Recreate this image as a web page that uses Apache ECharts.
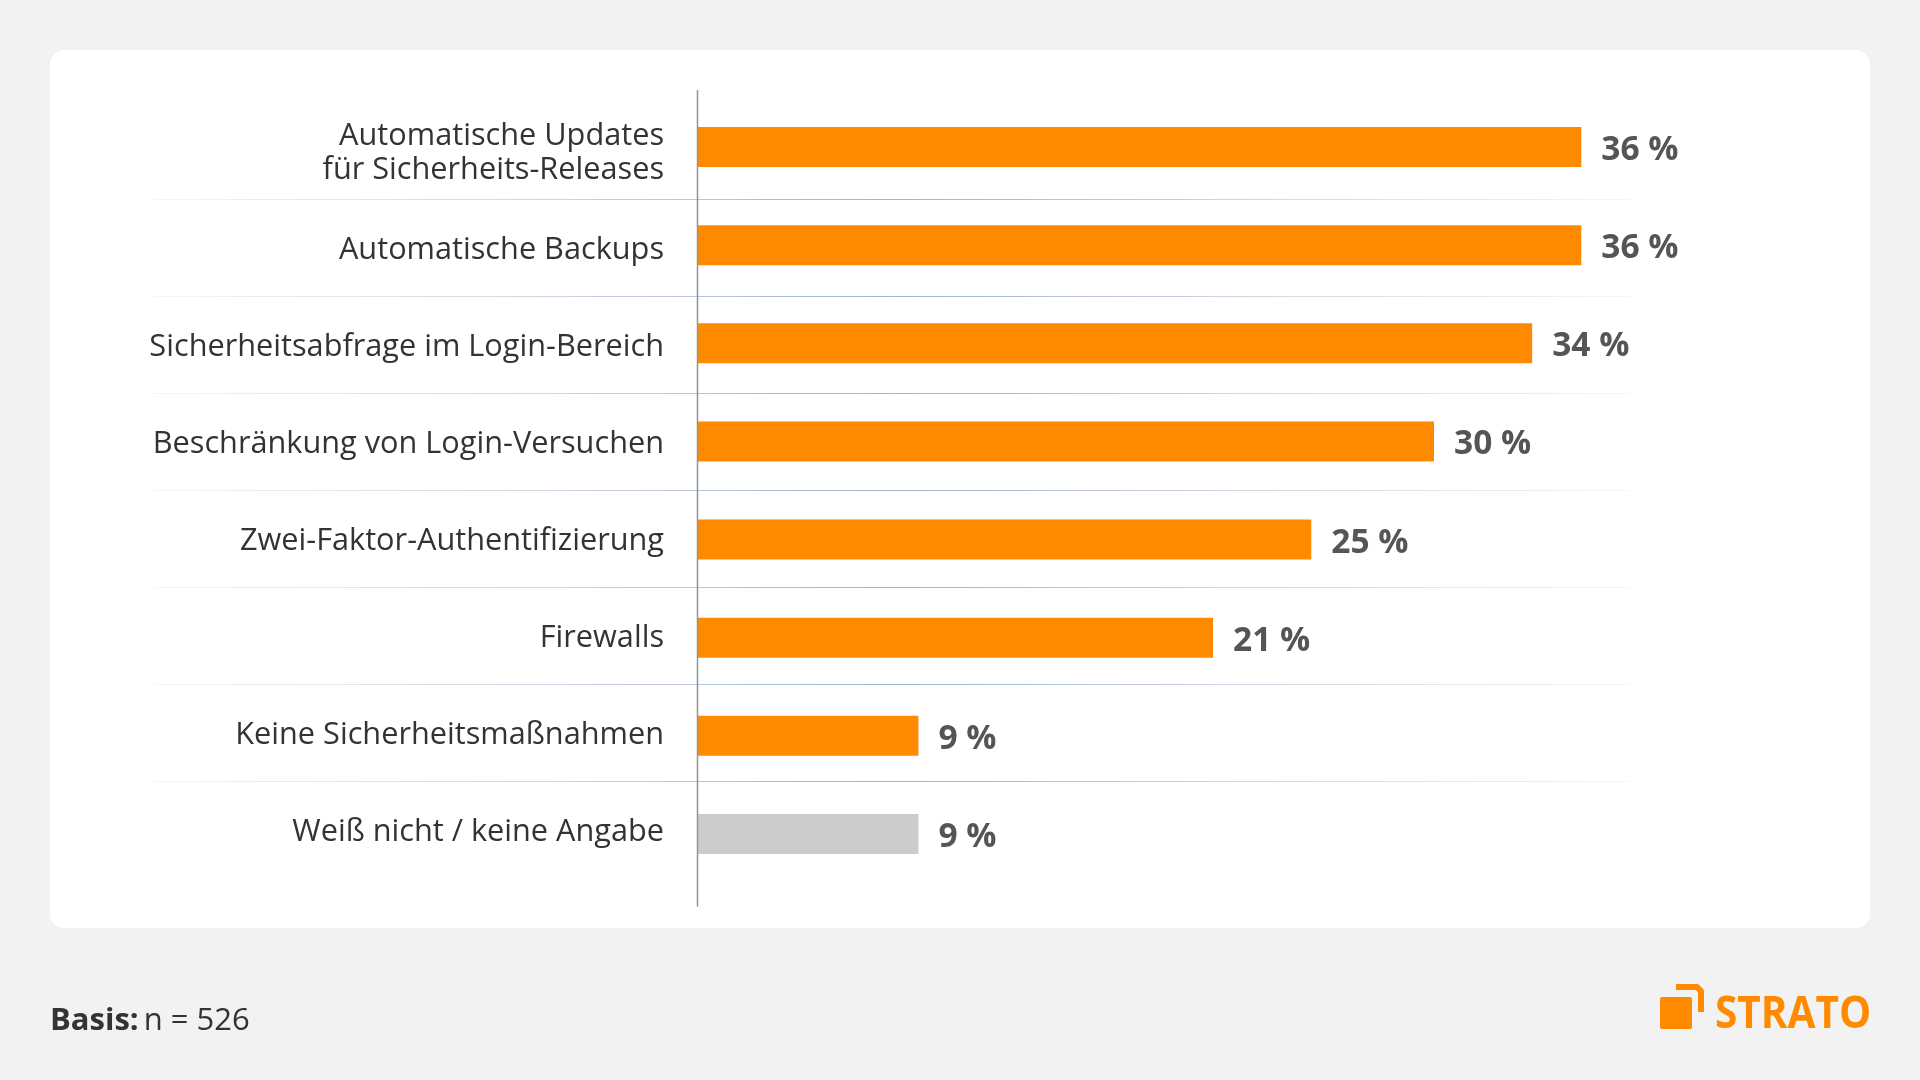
<!DOCTYPE html>
<html>
<head>
<meta charset="utf-8">
<title>STRATO</title>
<script src="https://cdn.jsdelivr.net/npm/echarts@6/dist/echarts.min.js"></script>
<style>
  html, body { margin: 0; padding: 0; background: #f2f2f2; }
  #main { width: 1920px; height: 1080px; }
</style>
</head>
<body>
<div id="main"></div>
<script>
var categories = [
  'Automatische Updates\nfür Sicherheits-Releases',
  'Automatische Backups',
  'Sicherheitsabfrage im Login-Bereich',
  'Beschränkung von Login-Versuchen',
  'Zwei-Faktor-Authentifizierung',
  'Firewalls',
  'Keine Sicherheitsmaßnahmen',
  'Weiß nicht / keine Angabe'
];
var values = [36, 36, 34, 30, 25, 21, 9, 9];
var barColors = ['#ff8a00', '#ff8a00', '#ff8a00', '#ff8a00', '#ff8a00', '#ff8a00', '#ff8a00', '#cccccc'];

var font = '"Open Sans", sans-serif';
var myChart = echarts.init(document.getElementById('main'));

var seriesData = [];
for (var i = 0; i < values.length; i++) {
  seriesData.push({ value: values[i], itemStyle: { color: barColors[i] } });
}

var option = {
  backgroundColor: '#f2f2f2',
  animation: false,
  title: {
    left: 50,
    top: 1006,
    padding: 0,
    text: '{b|Basis:} {n|n = 526}',
    textStyle: {
      rich: {
        b: { fontFamily: font, fontSize: 31, fontWeight: 700, color: '#333333' },
        n: { fontFamily: font, fontSize: 31, fontWeight: 400, color: '#333333' }
      }
    }
  },
  // bars, separators and labels do not share one pitch in the original, so three grids
  grid: [
    { left: 697.5, top: 98, width: 982, height: 785 },
    { left: 153, top: 102.5, width: 1477, height: 776 },
    { left: 153, top: 105, width: 1477, height: 776 }
  ],
  xAxis: [
    { gridIndex: 0, type: 'value', min: 0, max: 40, show: false },
    { gridIndex: 1, type: 'value', min: 0, max: 40, show: false },
    { gridIndex: 2, type: 'value', min: 0, max: 40, show: false }
  ],
  yAxis: [
    {
      gridIndex: 0, type: 'category', inverse: true, data: categories,
      axisLine: { show: false }, axisTick: { show: false }, axisLabel: { show: false }
    },
    {
      gridIndex: 1, type: 'category', inverse: true, data: categories,
      axisLine: { show: false },
      axisTick: { show: false },
      axisLabel: { show: false },
      splitLine: {
        show: true,
        interval: 0,
        showMinLine: false,
        showMaxLine: false,
        lineStyle: {
          width: 1,
          color: {
            type: 'linear', global: true, x: 153, y: 0, x2: 1630, y2: 0,
            colorStops: [
              { offset: 0, color: 'rgba(160,178,203,0.12)' },
              { offset: 0.25, color: 'rgba(160,178,203,0.5)' },
              { offset: 0.5, color: 'rgba(160,178,203,1)' },
              { offset: 0.75, color: 'rgba(160,178,203,0.5)' },
              { offset: 1, color: 'rgba(160,178,203,0.12)' }
            ]
          }
        }
      }
    },
    {
      gridIndex: 2, type: 'category', inverse: true, data: categories,
      axisLine: { show: false },
      axisTick: { show: false },
      splitLine: { show: false },
      axisLabel: {
        inside: true,
        margin: 511,
        align: 'right',
        interval: 0,
        fontFamily: font,
        fontSize: 30.7,
        lineHeight: 34,
        color: '#333333'
      }
    }
  ],
  series: [{
    type: 'bar',
    xAxisIndex: 0,
    yAxisIndex: 0,
    barWidth: 40,
    data: seriesData,
    label: {
      show: true,
      position: 'right',
      distance: 20,
      offset: [0, 3.5],
      formatter: '{c} %',
      fontFamily: font,
      fontSize: 33.5,
      fontWeight: 700,
      color: '#555555'
    }
  }],
  graphic: [
    // white card
    { type: 'rect', z: -1, shape: { x: 50, y: 50, width: 1820, height: 878, r: 14 }, style: { fill: '#ffffff' } },
    // axis line, runs past the bars on both ends
    { type: 'line', z: 5, shape: { x1: 697.5, y1: 90, x2: 697.5, y2: 906.5 }, style: { stroke: '#8f959c', lineWidth: 1.5 } },
    // logo
    { type: 'rect', shape: { x: 1660, y: 997, width: 32, height: 32, r: 2 }, style: { fill: '#ff8a00' } },
    {
      type: 'polyline',
      shape: { points: [[1676, 987], [1697, 987], [1701, 991], [1701, 1012]] },
      style: { fill: 'none', stroke: '#ff8a00', lineWidth: 6, lineJoin: 'round' }
    },
    {
      type: 'text', x: 1715, y: 993, scaleX: 0.9,
      style: { text: 'STRATO', fontFamily: font, fontSize: 45, fontWeight: 700, fill: '#ff8a00' }
    }
  ]
};
myChart.setOption(option);
</script>
</body>
</html>
